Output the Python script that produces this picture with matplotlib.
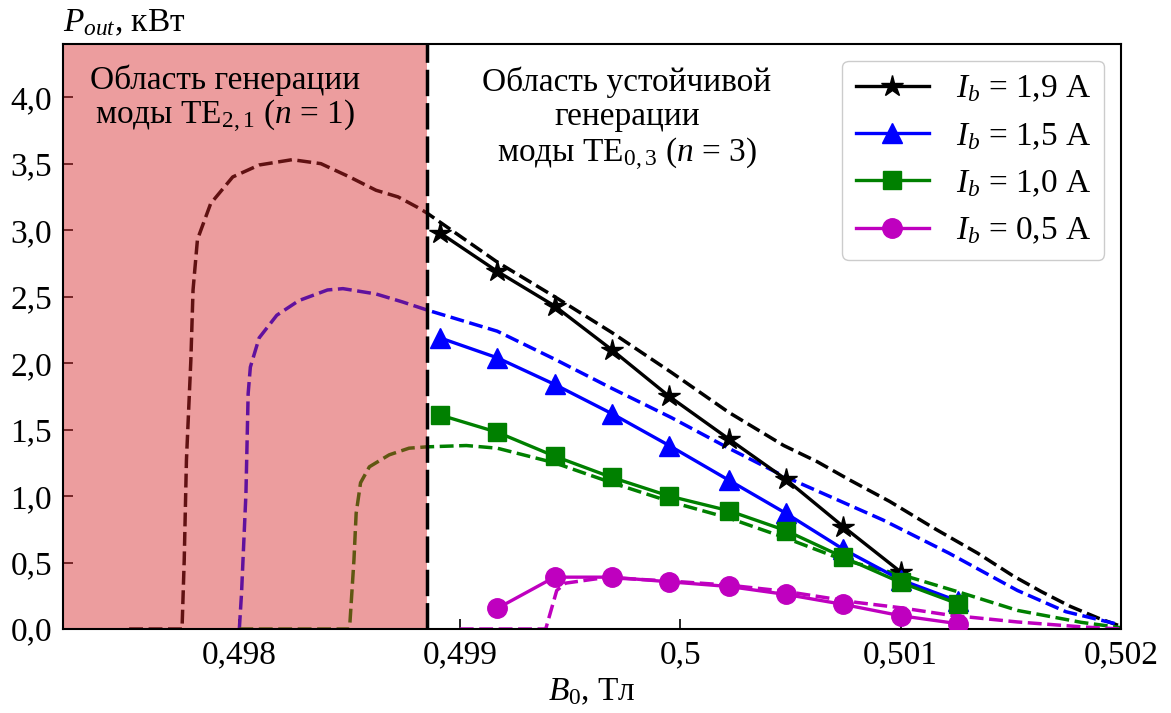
import numpy as np
import matplotlib
matplotlib.use("Agg")
import matplotlib.pyplot as plt

# --- ДАННЫЕ: эксперимент (маркеры) ---
B_exp = [0.49891, 0.49917, 0.49943, 0.49969, 0.49995,
         0.50022, 0.50048, 0.50074, 0.50100, 0.50126]

P_19 = [2.98, 2.69, 2.43, 2.10, 1.75, 1.43, 1.125, 0.77, 0.43]
P_15 = [2.19, 2.04, 1.84, 1.62, 1.38, 1.12, 0.87, 0.60, 0.37, 0.21]
P_10 = [1.61, 1.48, 1.30, 1.14, 1.00, 0.89, 0.74, 0.54, 0.35, 0.19]
P_05 = [0.155, 0.39, 0.39, 0.355, 0.32, 0.26, 0.185, 0.10, 0.04]  # начиная со 2-й точки

# --- ДАННЫЕ: расчёт (штриховые линии) ---
B_sim_19 = [0.49750, 0.49774, 0.49775, 0.49776, 0.49778, 0.49779, 0.49781, 0.49787,
            0.49797, 0.49809, 0.49824, 0.49837, 0.49850, 0.49862, 0.49872, 0.49881,
            0.49885, 0.49917, 0.49943, 0.49969, 0.49996, 0.50022, 0.50047, 0.50062,
            0.50077, 0.50095, 0.50116, 0.50135, 0.50151, 0.50164, 0.50177, 0.50190, 0.50200]
P_sim_19 = [0, 0, 0.52, 1.27, 2.02, 2.55, 2.93, 3.20,
            3.40, 3.49, 3.53, 3.50, 3.40, 3.30, 3.25, 3.17,
            3.13, 2.76, 2.50, 2.23, 1.93, 1.63, 1.38, 1.26,
            1.12, 0.96, 0.75, 0.57, 0.40, 0.28, 0.17, 0.08, 0.02]

B_sim_15 = [0.49800, 0.49801, 0.49803, 0.49804, 0.49805, 0.49809, 0.49817, 0.49827,
            0.49840, 0.49847, 0.49862, 0.49874, 0.49885, 0.49917, 0.49943, 0.49969,
            0.49996, 0.50022, 0.50047, 0.50062, 0.50092, 0.50122, 0.50153, 0.50175, 0.50200]
P_sim_15 = [0, 0.27, 1.02, 1.77, 1.97, 2.19, 2.36, 2.47,
            2.55, 2.56, 2.52, 2.46, 2.40, 2.24, 2.03, 1.81,
            1.59, 1.36, 1.15, 1.04, 0.82, 0.57, 0.29, 0.13, 0.03]

B_sim_10 = [0.49800, 0.49850, 0.49852, 0.49853, 0.49855, 0.49859, 0.49868, 0.49877,
            0.49885, 0.49903, 0.49917, 0.49943, 0.49969, 0.49996, 0.50022, 0.50047,
            0.50074, 0.50104, 0.50128, 0.50153, 0.50182, 0.50200]
P_sim_10 = [0, 0, 0.52, 0.87, 1.10, 1.22, 1.31, 1.36,
            1.37, 1.38, 1.36, 1.25, 1.10, 0.955, 0.835, 0.69,
            0.52, 0.39, 0.27, 0.14, 0.05, 0.01]

B_sim_05 = [0.49900, 0.49939, 0.49944, 0.49948, 0.49963, 0.49969, 0.49996, 0.50022,
            0.50047, 0.50080, 0.50100, 0.50122, 0.50153, 0.50183, 0.50200]
P_sim_05 = [0, 0, 0.29, 0.345, 0.38, 0.385, 0.36, 0.33,
            0.285, 0.20, 0.16, 0.105, 0.053, 0.015, 0.0]

B_BOUNDARY = 0.49885   # граница области генерации TE2,1

x_ticks = [0.498, 0.499, 0.5, 0.501, 0.502]
x_tick_labels = ["0,498", "0,499", "0,5", "0,501", "0,502"]
y_ticks = [0.0, 0.5, 1.0, 1.5, 2.0, 2.5, 3.0, 3.5, 4.0]
y_tick_labels = ["0,0", "0,5", "1,0", "1,5", "2,0", "2,5", "3,0", "3,5", "4,0"]

# --- ОФОРМЛЕНИЕ ---
plt.rcParams['font.family'] = ['Liberation Serif', 'DejaVu Serif']
plt.rcParams['mathtext.fontset'] = 'custom'
plt.rcParams['mathtext.rm'] = 'Liberation Serif'
plt.rcParams['mathtext.it'] = 'Liberation Serif:italic'
plt.rcParams['lines.scale_dashes'] = False

FS = 24
DASH = (0, (10, 4))

fig = plt.figure(figsize=(11.71, 7.13), dpi=100)
ax = fig.add_axes([0.0538, 0.1178, 0.9035, 0.8205])

# расчётные кривые
ax.plot(B_sim_19, P_sim_19, color='black', lw=2.5, ls=DASH, zorder=2)
ax.plot(B_sim_15, P_sim_15, color='blue', lw=2.5, ls=DASH, zorder=2)
ax.plot(B_sim_10, P_sim_10, color='green', lw=2.5, ls=DASH, zorder=2)
ax.plot(B_sim_05, P_sim_05, color='m', lw=2.5, ls=DASH, zorder=2)

# экспериментальные точки
ax.plot(B_exp[:len(P_19)], P_19, color='black', marker='*', ms=16, lw=2.4,
        label=r'$I_b$ = 1,9 A', zorder=3)
ax.plot(B_exp, P_15, color='blue', marker='^', ms=14, lw=2.4,
        label=r'$I_b$ = 1,5 A', zorder=3)
ax.plot(B_exp, P_10, color='green', marker='s', ms=13, lw=2.4,
        label=r'$I_b$ = 1,0 A', zorder=3)
ax.plot(B_exp[1:], P_05, color='m', marker='o', ms=14, lw=2.4,
        label=r'$I_b$ = 0,5 A', zorder=3)

ax.set_xlim(0.4972, 0.502)
ax.set_ylim(0, 4.4)

# область генерации TE2,1 (полупрозрачная заливка поверх кривых)
ax.axvspan(0.4972, B_BOUNDARY, color='tab:red', alpha=0.45, lw=0, zorder=2.2)
ax.axvline(B_BOUNDARY, color='black', lw=2.5, ls=(0, (19, 5)), zorder=2.3)

ax.text(0.153, 0.965, "Область генерации\nмоды $\\mathrm{TE}_{2,1}$ ($n$ = 1)",
        transform=ax.transAxes, ha='center', va='top', fontsize=FS,
        linespacing=1.05, zorder=4)
ax.text(0.533, 0.962, "Область устойчивой\nгенерации\nмоды $\\mathrm{TE}_{0,3}$ ($n$ = 3)",
        transform=ax.transAxes, ha='center', va='top', fontsize=FS,
        linespacing=1.15, zorder=4)

ax.set_xticks(x_ticks)
ax.set_xticklabels(x_tick_labels)
ax.set_yticks(y_ticks)
ax.set_yticklabels(y_tick_labels)
ax.tick_params(direction='in', length=7, width=1.2, labelsize=FS, pad=8)

for sp in ax.spines.values():
    sp.set_linewidth(1.5)

ax.set_xlabel(r'$B_0$, Тл', fontsize=FS, labelpad=4)
ax.text(0.0, 1.01, r'$P_{out}$, кВт', transform=ax.transAxes,
        ha='left', va='bottom', fontsize=FS)

leg = ax.legend(loc='upper right', fontsize=FS, handlelength=2.2,
                labelspacing=0.5, borderaxespad=0.5, framealpha=1)
leg.set_zorder(5)

fig.savefig('out.png', dpi=100)
